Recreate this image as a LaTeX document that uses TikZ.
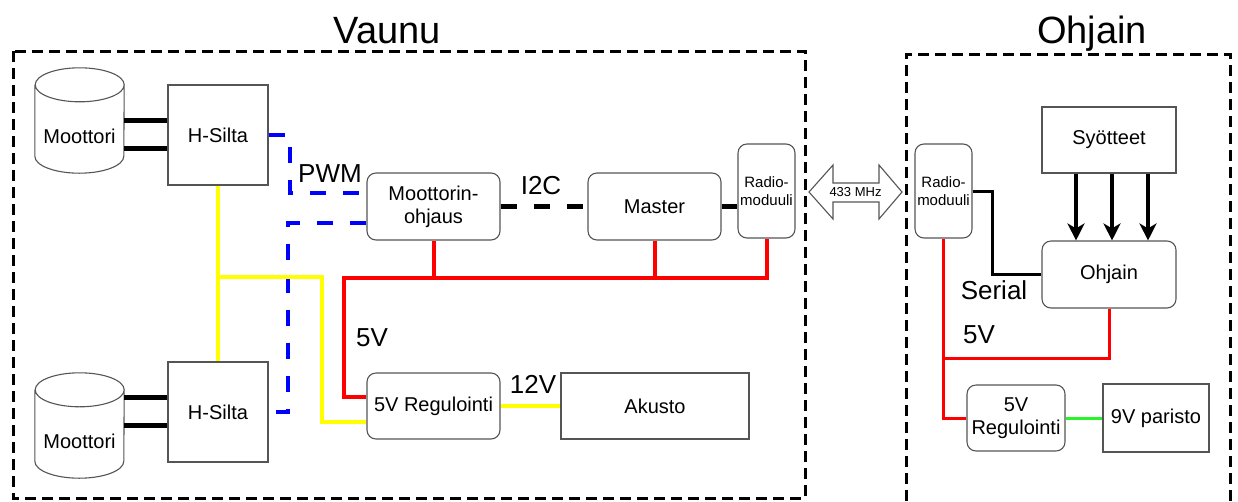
\documentclass[tikz,border=0pt]{standalone}
\usepackage{fontspec}
\setmainfont{Liberation Sans}
\usetikzlibrary{arrows.meta}
\definecolor{wirered}{RGB}{255,0,0}
\definecolor{wireyellow}{RGB}{255,255,0}
\definecolor{wireblue}{RGB}{0,0,255}
\definecolor{wiregreen}{RGB}{40,245,40}
\definecolor{boxgray}{RGB}{85,85,85}

\begin{document}
\begin{tikzpicture}[x=1pt,y=1pt,
  box/.style={draw=boxgray, line width=1.1pt, fill=white, align=center, inner sep=0pt,
    font=\fontsize{20}{23}\selectfont},
  rbox/.style={box, rounded corners=9pt},
  radio/.style={rbox, minimum width=57pt, minimum height=94pt, font=\fontsize{15}{18}\selectfont},
  motor/.style={minimum width=89pt, minimum height=105pt, inner sep=0pt},
  cyl/.style={draw=boxgray, line width=1.1pt, fill=white},
  boxtext/.style={font=\fontsize{20}{23}\selectfont, inner sep=0pt},
  lbl/.style={font=\fontsize{26}{30}\selectfont, inner sep=0pt, anchor=base},
  title/.style={font=\fontsize{38}{42}\selectfont, inner sep=0pt, anchor=base},
  frame/.style={line width=3pt, dash pattern=on 11pt off 6pt},
  motorwire/.style={line width=5pt},
  pwr/.style={wirered, line width=4pt},
  batt/.style={wireyellow, line width=4pt},
  pwm/.style={wireblue, line width=4pt, dash pattern=on 16pt off 17pt},
  bus/.style={line width=5pt, dash pattern=on 16pt off 17pt},
  inarrow/.style={line width=3.2pt, -{Stealth[length=17pt 0, width=17pt 0, inset=5pt]}}
]
\useasboundingbox (0,0) rectangle (1238,-501);

% containers
\draw[frame] (13,-51) rectangle (805,-498);
\draw[frame] (906,-501) -- (906,-54) -- (1230,-54) -- (1230,-501);
\node[title] (vaunu) at (387,-43) {Vaunu};
\node[title] (ohjaint) at (1092,-43) {Ohjain};

% Vaunu: motors and H-bridges
\node[motor] (mot1) at (79.5,-120.5) {};
\node[motor] (mot2) at (79.5,-425.5) {};
\foreach \m in {mot1,mot2}{
  \draw[cyl] ([yshift=-17pt]\m.north west) -- ([yshift=17pt]\m.south west)
    arc[start angle=180, end angle=360, x radius=44.5pt, y radius=17pt]
    -- ([yshift=-17pt]\m.north east)
    arc[start angle=0, end angle=180, x radius=44.5pt, y radius=17pt]
    arc[start angle=180, end angle=360, x radius=44.5pt, y radius=17pt];
  \node[boxtext, anchor=base] (\m-txt) at ([yshift=-22.5pt]\m.center) {Moottori};
}
\node[box, minimum width=100pt, minimum height=100pt] (hs1) at (218,-135) {H-Silta};
\node[box, minimum width=100pt, minimum height=100pt] (hs2) at (218,-412) {H-Silta};
\foreach \h/\m in {hs1/mot1,hs2/mot2}{
  \draw[motorwire] ([yshift=15pt]\h.west) -- ([yshift=15pt]\h.west -| \m.east);
  \draw[motorwire] ([yshift=-13pt]\h.west) -- ([yshift=-13pt]\h.west -| \m.east);
}

% Vaunu: control and power
\node[rbox, minimum width=133pt, minimum height=67pt] (moh) at (433.5,-206.5) {Moottorin-\\ohjaus};
\node[rbox, minimum width=133pt, minimum height=67pt] (master) at (654.5,-206.5) {Master};
\node[radio] (radio1) at (766.5,-191) {Radio-\\moduuli};
\node[rbox, minimum width=133pt, minimum height=66pt] (reg1) at (433.5,-406) {5V Regulointi};
\node[box, minimum width=188pt, minimum height=66pt] (akusto) at (655,-406) {Akusto};

\draw[pwm] (hs1.east) -- ++(21,0) |- ([yshift=14pt]moh.west);
\draw[pwm] ([yshift=-16pt]moh.west) -- ++(-78,0) |- (hs2.east);
\node[lbl] (pwmlbl) at (330,-182) {PWM};

\draw[bus] (moh.east) -- (master.west);
\node[lbl] (i2clbl) at (541,-194) {I2C};
\draw[motorwire] (master.east) -- (master.east -| radio1.west);

\coordinate (yj) at (218,-277);
\coordinate (ybus) at (322,-277);
\draw[batt] (hs1.south) -- (hs2.north);
\draw[batt] (yj) -- (ybus) |- ([yshift=-16pt]reg1.west);
\draw[batt] (reg1.east) -- (akusto.west);
\node[lbl] (v12lbl) at (533,-393) {12V};

\coordinate (rbus) at (344,-278);
\draw[pwr] (moh.south) -- (moh.south |- rbus);
\draw[pwr] (master.south) -- (master.south |- rbus);
\draw[pwr] (radio1.south) |- (rbus) |- ([yshift=9pt]reg1.west);
\node[lbl] (v5lbl) at (372,-346) {5V};

% radio link
\node[font=\fontsize{13}{15}\selectfont, inner sep=0pt] (rf) at (855.5,-192) {};
\draw[draw=boxgray, line width=1.1pt, fill=white] ([xshift=-46.5pt]rf.center) -- ++(24,27) -- ++(0,-18)
  -- ++(46,0) -- ++(0,18) -- ++(23,-27) -- ++(-23,-27) -- ++(0,17) -- ++(-46,0) -- ++(0,-17) -- cycle;
\node[font=\fontsize{13}{15}\selectfont, inner sep=0pt] (rftxt) at (rf) {433 MHz};

% Ohjain
\node[radio] (radio2) at (943.5,-191) {Radio-\\moduuli};
\node[box, minimum width=134pt, minimum height=66pt] (syot) at (1109,-140) {Syötteet};
\node[rbox, minimum width=134pt, minimum height=67pt] (ohjain) at (1109,-274.5) {Ohjain};
\node[rbox, minimum width=98pt, minimum height=66pt] (reg2) at (1016,-418) {5V\\Regulointi};
\node[box, minimum width=106pt, minimum height=68pt] (paristo) at (1156,-418) {9V paristo};

\foreach \dx in {-33,3,39}
  \draw[inarrow] ([xshift=\dx pt]syot.south) -- ([xshift=\dx pt]ohjain.north);
\draw[line width=3pt] (radio2.east) -- ++(20,0) |- (ohjain.west);
\node[lbl] (seriallbl) at (994,-299) {Serial};

\coordinate (rj) at (943.5,-358);
\draw[pwr, line width=3pt] (radio2.south) |- (reg2.west);
\draw[pwr, line width=3pt] (rj) -| (ohjain.south);
\node[lbl] (v5lbl2) at (979,-343) {5V};
\draw[wiregreen, line width=3pt] (reg2.east) -- (paristo.west);
\end{tikzpicture}
\end{document}
